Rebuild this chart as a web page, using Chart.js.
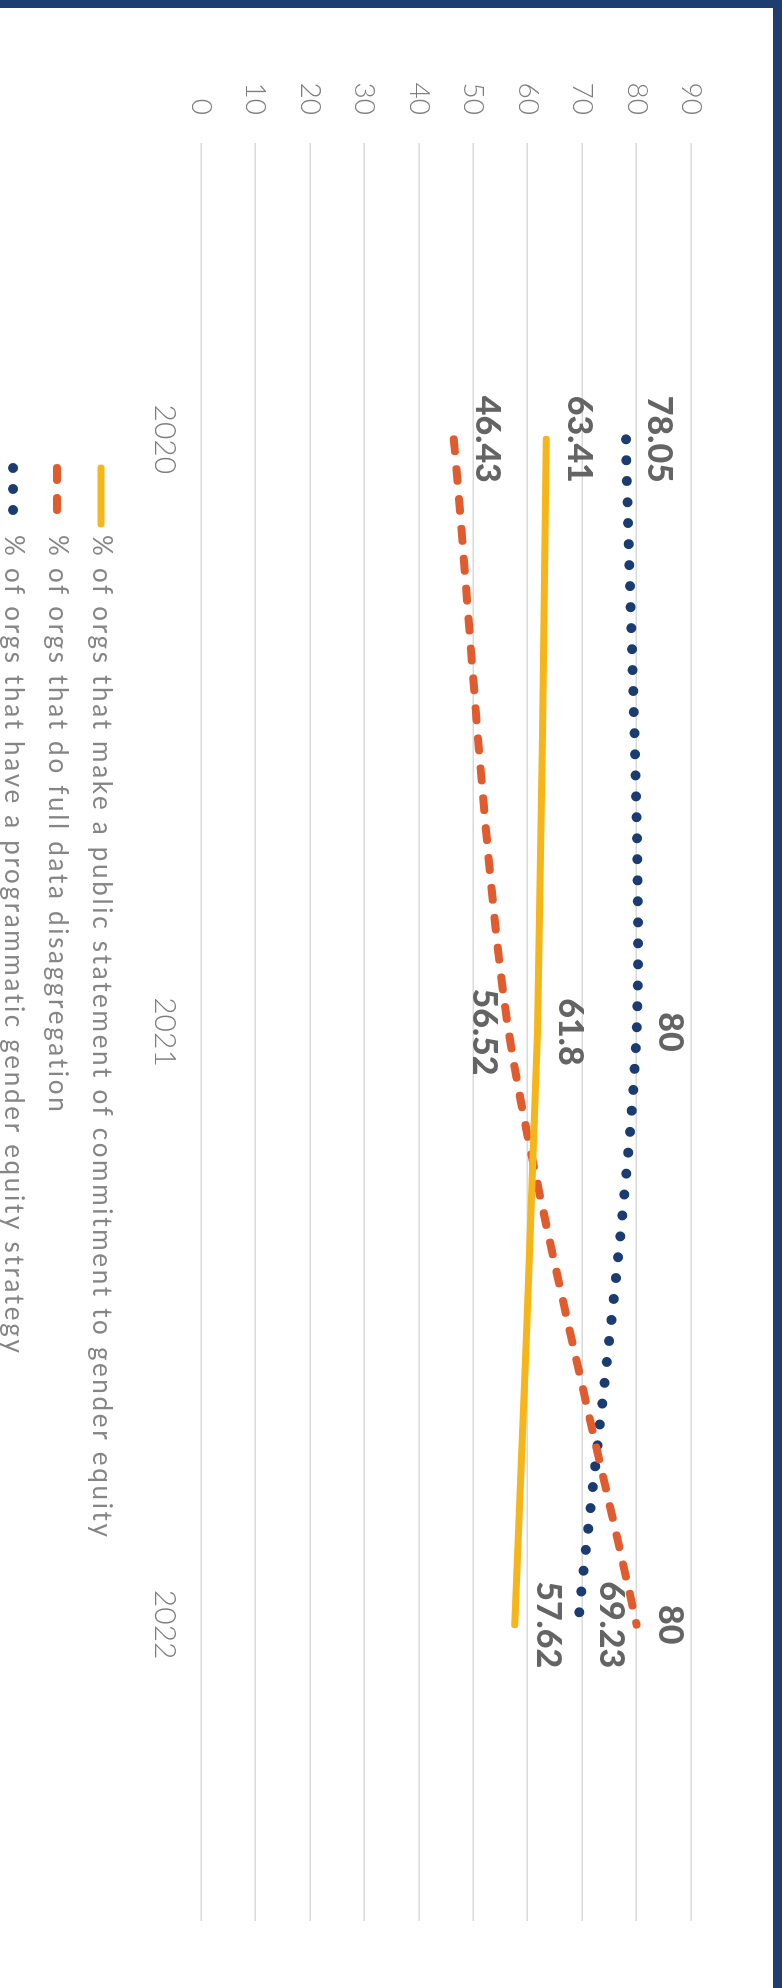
<!DOCTYPE html>
<html>
<head>
<meta charset="utf-8">
<script src="https://cdn.jsdelivr.net/npm/chart.js@4.4.1/dist/chart.umd.min.js"></script>
<style>
html, body { margin: 0; padding: 0; background: #fff; }
body { width: 782px; height: 1988px; overflow: hidden; position: relative; }
/* the chart is drawn landscape and turned a quarter clockwise */
#frame { position: absolute; left: 0; top: 0; width: 1988px; height: 782px;
	transform-origin: 0 0; transform: translate(782px, 0) rotate(90deg); }
#frame canvas { position: absolute; left: 0; top: 0; }
.edge { position: absolute; background: #1e3e72; }
</style>
</head>
<body>
<div id="frame">
	<canvas id="trendCanvas" width="1988" height="782"></canvas>
	<div class="edge" style="left:0;top:0;width:8px;height:782px"></div>
	<div class="edge" style="left:0;top:0;width:1988px;height:9px"></div>
</div>
<script>
var years = ["2020", "2021", "2022"];
var seriesNames = [
	"% of orgs that make a public statement of commitment to gender equity",
	"% of orgs that do full data disaggregation",
	"% of orgs that have a programmatic gender equity strategy"
];
var publicStatement = [63.41, 61.8, 57.62];
var dataDisaggregation = [46.43, 56.52, 80];
var genderStrategy = [78.05, 80, 69.23];
var axisMin = 0;
var axisMax = 90;
var axisStep = 10;

var labelFont = "900 34px Lato";
var lightFont = "Lato";

// draws the value next to each point
var pointLabels = {
	id: 'pointLabels',
	afterDatasetsDraw: function(chart, args, opts) {
		var ctx = chart.ctx;
		chart.data.datasets.forEach(function(ds, i) {
			var meta = chart.getDatasetMeta(i);
			meta.data.forEach(function(pt, j) {
				var side = (ds.labelSide && ds.labelSide[j]) || 'top';
				var y = side == 'top' ? pt.y - opts.gap : pt.y + opts.gapBelow + opts.capHeight;
				ctx.save();
				ctx.font = labelFont;
				ctx.fillStyle = opts.color;
				ctx.textAlign = 'center';
				ctx.textBaseline = 'alphabetic';
				ctx.fillText(String(ds.data[j]), pt.x, y);
				ctx.restore();
			});
		});
	}
};

// one legend row per series, under the plot
var lineLegend = {
	id: 'lineLegend',
	afterDraw: function(chart, args, opts) {
		var ctx = chart.ctx;
		chart.data.datasets.forEach(function(ds, i) {
			var y = opts.top + i * opts.rowGap;
			ctx.save();
			ctx.strokeStyle = ds.borderColor;
			ctx.lineWidth = ds.borderWidth;
			ctx.lineCap = 'round';
			ctx.setLineDash(ds.borderDash || []);
			ctx.beginPath();
			ctx.moveTo(opts.left, y);
			ctx.lineTo(opts.left + opts.sample, y);
			ctx.stroke();
			ctx.setLineDash([]);
			ctx.fillStyle = opts.color;
			ctx.font = opts.weight + " " + opts.size + "px " + lightFont;
			ctx.letterSpacing = opts.spacing + "px";
			ctx.textBaseline = 'middle';
			ctx.fillText(ds.label, opts.left + opts.sample + opts.textGap, y);
			ctx.restore();
		});
	}
};

var ctx = document.getElementById("trendCanvas").getContext("2d");
var chart = new Chart(ctx, {
	type: 'line',
	data: {
		labels: years,
		datasets: [
			{
				label: seriesNames[0],
				data: publicStatement,
				borderColor: "#f6b519",
				borderWidth: 7,
				borderCapStyle: 'round',
				tension: 0.25,
				pointRadius: 0
			},
			{
				label: seriesNames[1],
				data: dataDisaggregation,
				borderColor: "#e05b2d",
				borderWidth: 8,
				borderDash: [12, 18],
				borderCapStyle: 'round',
				tension: 0.25,
				pointRadius: 0,
				labelSide: ['top', 'bottom', 'top']
			},
			{
				label: seriesNames[2],
				data: genderStrategy,
				borderColor: "#1b3c70",
				borderWidth: 10,
				borderDash: [0, 21],
				borderCapStyle: 'round',
				tension: 0.25,
				pointRadius: 0
			}
		]
	},
	options: {
		responsive: false,
		animation: false,
		devicePixelRatio: 1,
		layout: { padding: { left: 0, right: 67, top: 91, bottom: 141 } },
		scales: {
			x: {
				offset: true,
				grid: { display: false },
				border: { display: false },
				ticks: { color: "#7d7d7d", font: { family: lightFont, size: 30, weight: 300 }, padding: 10 },
				afterFit: function(scale) { scale.height = 60; }
			},
			y: {
				min: axisMin,
				max: axisMax,
				grid: { color: "#d9d9d9", lineWidth: 1.5, drawTicks: false },
				border: { display: false },
				ticks: { stepSize: axisStep, color: "#7d7d7d", font: { family: lightFont, size: 28, weight: 300 }, padding: 28 },
				afterFit: function(scale) { scale.width = 143; }
			}
		},
		plugins: {
			legend: { display: false },
			tooltip: { enabled: false },
			pointLabels: { gap: 22, gapBelow: 12, capHeight: 24, color: "#646464" },
			lineLegend: { left: 468, sample: 56, textGap: 11, top: 681, rowGap: 44, size: 26, weight: 400, spacing: 2.7, color: "#858585" }
		}
	},
	plugins: [pointLabels, lineLegend]
});
</script>
</body>
</html>
